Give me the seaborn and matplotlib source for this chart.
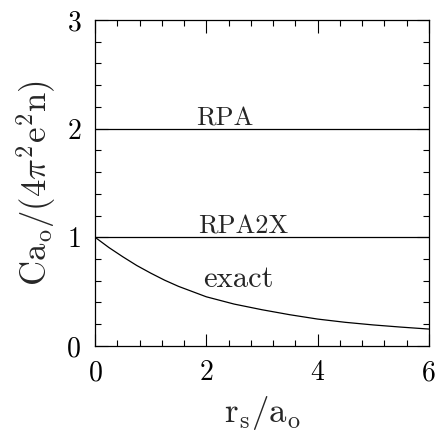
import matplotlib
matplotlib.use("Agg")
import matplotlib.pyplot as plt
import pandas as pd
import seaborn as sns
from matplotlib.ticker import MultipleLocator

# --- data ---
rs = [0.0, 0.25, 0.5, 0.75, 1.0, 1.25, 1.5, 2.0, 2.5, 3.0, 3.5, 4.0, 4.5, 5.0, 5.5, 6.0]
exact = [1.0, 0.905, 0.82, 0.74, 0.67, 0.605, 0.548, 0.452, 0.385, 0.333, 0.287, 0.247, 0.217, 0.193, 0.173, 0.155]
rpa = [2.0] * len(rs)
rpa2x = [1.0] * len(rs)

curve_labels = ["RPA", "RPA2X", "exact"]
label_x = [2.33, 2.66, 2.57]
label_y = [2.03, 1.03, 0.545]
label_size = [19, 19, 22]

sns.set_style("ticks")
plt.rcParams["font.family"] = ["cmr10"]
plt.rcParams["mathtext.fontset"] = "cm"
plt.rcParams["axes.formatter.use_mathtext"] = True

df = pd.DataFrame({"rs": rs, "RPA": rpa, "RPA2X": rpa2x, "exact": exact})
long_df = df.melt(id_vars="rs", var_name="curve", value_name="value")

fig = plt.figure(figsize=(4.38, 4.34), dpi=100)
ax = fig.add_axes([0.217, 0.203, 0.762, 0.751])

sns.lineplot(
    data=long_df,
    x="rs",
    y="value",
    hue="curve",
    palette=["black"] * 3,
    linewidth=0.9,
    legend=False,
    ax=ax,
)

for name, tx, ty, fs in zip(curve_labels, label_x, label_y, label_size):
    ax.text(tx, ty, name, ha="center", va="baseline", fontsize=fs)

ax.set_xlim(0, 6)
ax.set_ylim(0, 3)
ax.xaxis.set_major_locator(MultipleLocator(2))
ax.xaxis.set_minor_locator(MultipleLocator(0.4))
ax.yaxis.set_major_locator(MultipleLocator(1))
ax.yaxis.set_minor_locator(MultipleLocator(0.2))

ax.tick_params(which="both", direction="in", top=True, right=True, width=0.8, colors="black")
ax.tick_params(which="major", length=9, labelsize=20, pad=10)
ax.tick_params(which="minor", length=4.5)
for sp in ax.spines.values():
    sp.set_linewidth(0.9)
    sp.set_color("black")

ax.set_xlabel(r"$\mathrm{r_s/a_o}$", fontsize=25, labelpad=6)
ax.set_ylabel(r"$\mathrm{Ca_o/(4\pi^2e^2n)}$", fontsize=25, labelpad=6)

fig.savefig("out.png", dpi=100)
